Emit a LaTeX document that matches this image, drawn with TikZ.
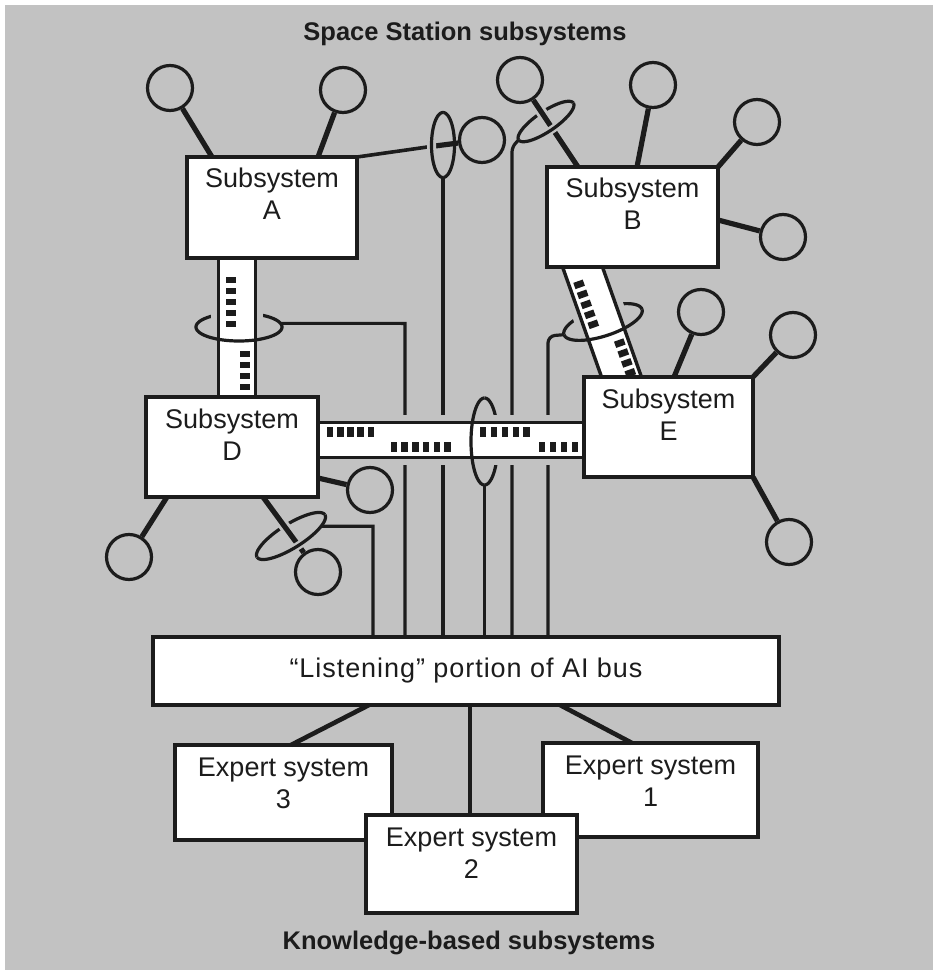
\documentclass[tikz,border=0pt]{standalone}
\usepackage{fontspec}
\setmainfont{Liberation Sans}
\usetikzlibrary{calc}
\definecolor{bg}{RGB}{194,194,194}
\definecolor{ink}{RGB}{28,28,28}
\pgfdeclarelayer{under}
\pgfsetlayers{under,main}
% elliptic arc: [style]{cx}{cy}{rx}{ry}{phi}{t0}{t1}  (pixel frame, y down)
\newcommand{\ellarc}[8][]{\draw[#1] plot[domain=#7:#8, samples=72, smooth, variable=\t]
  ({#2+(#4)*cos(\t)*cos(#6)-(#5)*sin(\t)*sin(#6)},{#3+(#4)*cos(\t)*sin(#6)+(#5)*sin(\t)*cos(#6)});}
\newcommand{\ellcoord}[7]{\coordinate (#1) at
  ({#2+(#4)*cos(#7)*cos(#6)-(#5)*sin(#7)*sin(#6)},{#3+(#4)*cos(#7)*sin(#6)+(#5)*sin(#7)*cos(#6)});}
\newcommand{\boxtext}[4]{\parbox[c][#2pt][t]{#1pt}{\centering\rule{0pt}{31pt}#3\\#4}}
\newcommand{\busrect}[2]{\fill[ink] (#1-3.3,#2-5) -- (#1+3.3,#2-5) -- (#1+3.3,#2+5) -- (#1-3.3,#2+5) -- cycle;}
\newcommand{\busbody}[2]{%
  \path[draw=bg, line width=15pt] (-10,-#2) -- (#1+10,-#2) -- (#1+10,#2) -- (-10,#2) -- cycle;
  \path[fill=white, draw=ink, line width=3.4pt] (-10,-#2) -- (#1+10,-#2) -- (#1+10,#2) -- (-10,#2) -- cycle;}
\begin{document}
\begin{tikzpicture}[x={(1pt,0pt)}, y={(0pt,-1pt)},
  sensor/.style={circle, draw=ink, line width=3.2pt, minimum size=45pt, inner sep=0pt},
  stem/.style={draw=ink, line width=5.2pt},
  conn/.style={draw=ink, line width=4.6pt},
  wire/.style={draw=ink, line width=3.2pt},
  loopl/.style={draw=ink, line width=3.2pt},
  halo/.style={preaction={draw=bg, line width=#1}},
  sbox/.style={draw=ink, fill=white, line width=3.5pt, inner sep=0pt, outer sep=0pt,
    text=ink, font=\fontsize{27}{32}\selectfont},
  ttl/.style={font=\fontsize{25.5}{30}\selectfont\bfseries, text=ink, inner sep=0pt}]
\useasboundingbox (0,0) rectangle (937,973);

% ---------- boxes (main layer) ----------
\node[sbox] (A) at (272,207.5) {\boxtext{170}{101}{Subsystem}{A}};
\node[sbox] (B) at (632.5,217) {\boxtext{171}{100}{Subsystem}{B}};
\node[sbox] (D) at (232,447) {\boxtext{172}{100}{Subsystem}{D}};
\node[sbox] (E) at (668.5,427) {\boxtext{169}{100}{Subsystem}{E}};
\node[sbox, minimum width=626pt, minimum height=68pt] (bus) at (466,671)
  {\addfontfeature{LetterSpace=3.5}“Listening” portion of AI bus};
\node[sbox] (es3) at (283.5,792.5) {\boxtext{217}{95}{Expert system}{3}};
\node[sbox] (es1) at (650.5,790) {\boxtext{215}{94}{Expert system}{1}};
\draw[conn] ($(bus.south west)+(216,0)$) -- ($(es3.north west)+(116,0)$);
\draw[conn] ($(bus.south west)+(407,0)$) -- ($(es1.north west)+(89,0)$);
\node[sbox] (es2) at (471.5,864) {\boxtext{211}{98}{Expert system}{2}};
\coordinate (es2t) at ($(es2.north west)+(104,0)$);
\draw[conn] (es2t) -- (es2t |- bus.south);

\node[ttl] (title) at (465,34) {Space Station subsystems};
\node[ttl] (subtitle) at (469,943) {Knowledge-based subsystems};

\begin{pgfonlayer}{under}
\fill[white] (0,0) rectangle (937,973);
\fill[bg] (5,5) rectangle (933,970);

% ---------- loop on link A -> sensor ----------
\ellarc[loopl]{443}{145}{11.5}{32.5}{0}{-90}{90}
\node[sensor] (cA3) at (482,140) {};
\coordinate (LAin) at (431,146.5);
\draw[wire, line width=3.6pt] (A.north east) -- (LAin);
\draw[stem] (LAin) -- (cA3);
\ellarc[loopl, halo=9pt]{443}{145}{11.5}{32.5}{0}{90}{270}
\coordinate (LAb) at (443,177.5);
\draw[wire] (LAb) -- (LAb |- bus.north);

% ---------- loop on B sensor stem ----------
\ellarc[loopl]{546}{121.5}{33}{10}{-34}{180}{360}
\node[sensor] (cB1) at (520,80) {};
\draw[stem, halo=11pt] ($(B.north west)+(31,0)$) -- (cB1);
\ellarc[loopl, halo=8pt]{546}{121.5}{33}{10}{-34}{0}{180}
\ellcoord{LBt}{546}{121.5}{33}{10}{-34}{180}
\coordinate (LBc) at (512,147);
\draw[wire, rounded corners=5pt] (LBt) -- (LBc) -- (LBc |- bus.north);

% ---------- loop on D sensor stem ----------
\ellarc[loopl]{291}{536}{40}{12}{-32}{180}{360}
\node[sensor] (cD3) at (318,572) {};
\draw[stem, halo=11pt] ($(D.south west)+(117,0)$) -- (cD3);
\ellarc[loopl, halo=8pt]{291}{536}{40}{12}{-32}{0}{180}
\ellcoord{LDt}{291}{536}{40}{12}{-32}{40}
\coordinate (LDc) at (373,526.3);
\draw[wire] (LDt) -- (LDc) -- (LDc |- bus.north);

% ---------- bus loops: back halves and taps ----------
\ellarc[loopl]{239}{327}{43}{14}{0}{180}{360}
\ellcoord{ADt}{239}{327}{43}{14}{0}{-15}
\coordinate (ADc) at (405,323.4);
\draw[wire] (ADt) -- (ADc) -- (ADc |- bus.north);

\ellarc[loopl]{484.5}{441.5}{13.5}{43.5}{0}{-90}{90}
\coordinate (Cb) at (484.5,485);
\draw[wire] (Cb) -- (Cb |- bus.north);

\ellarc[loopl]{603}{322}{41}{14}{-18}{180}{360}
\ellcoord{BEt}{603}{322}{41}{14}{-18}{180}
\coordinate (BEc) at (548,336);
\draw[wire, rounded corners=7pt] (BEt) -- (BEc) -- (BEc |- bus.north);

% ---------- sensors and stems ----------
\node[sensor] (cA1) at (170,88) {};
\node[sensor] (cA2) at (343,90) {};
\node[sensor] (cB2) at (653,85) {};
\node[sensor] (cB3) at (757,122) {};
\node[sensor] (cB4) at (783,237) {};
\node[sensor] (cD1) at (129,557) {};
\node[sensor] (cD2) at (370,490) {};
\node[sensor] (cE1) at (701,312) {};
\node[sensor] (cE2) at (793,335) {};
\node[sensor] (cE3) at (789,542) {};
\draw[stem] ($(A.north west)+(25,0)$) -- (cA1);
\draw[stem] ($(A.north west)+(131,0)$) -- (cA2);
\draw[stem] ($(B.north west)+(90,0)$) -- (cB2);
\draw[stem] (B.north east) -- (cB3);
\draw[stem] ($(B.north east)+(0,53)$) -- (cB4);
\draw[stem] ($(D.south west)+(21,0)$) -- (cD1);
\draw[stem] ($(D.north east)+(0,81)$) -- (cD2);
\draw[stem] ($(E.north west)+(90,0)$) -- (cE1);
\draw[stem] (E.north east) -- (cE2);
\draw[stem] (E.south east) -- (cE3);

% ---------- data buses ----------
\begin{scope}[shift={(237,258)}, x={(0pt,-1pt)}, y={(-1pt,0pt)}]
  \busbody{139}{18.7}
  \foreach \s in {22,33,44,55,66} {\busrect{\s}{6}}
  \foreach \s in {96,107,118,129} {\busrect{\s}{-8}}
\end{scope}
\begin{scope}[shift={(318,440)}, x={(1pt,0pt)}, y={(0pt,-1pt)}]
  \busbody{265}{17.6}
  \foreach \s in {12,22.25,32.5,42.75,53} {\busrect{\s}{-8}}
  \foreach \s in {76,86.7,97.4,108.1,118.8,129.5} {\busrect{\s}{7}}
  \foreach \s in {165,176,187,198,208.5} {\busrect{\s}{-8}}
  \foreach \s in {224,235,246,257} {\busrect{\s}{7}}
\end{scope}
\begin{scope}[shift={(582.5,267)}, x={(0.3342pt,-0.9426pt)}, y={(-0.9426pt,-0.3342pt)}]
  \busbody{116.7}{18.8}
  \foreach \s in {15.2,25.8,36.4,47,57.6} {\busrect{\s}{9}}
  \foreach \s in {84.2,94.7,105.2,115.7} {\busrect{\s}{-9.7}}
\end{scope}

% ---------- bus loops: front halves ----------
\ellarc[loopl]{239}{327}{43}{14}{0}{0}{180}
\ellarc[loopl]{484.5}{441.5}{13.5}{43.5}{0}{90}{270}
\ellarc[loopl]{603}{322}{41}{14}{-18}{0}{180}
\end{pgfonlayer}
\end{tikzpicture}
\end{document}
